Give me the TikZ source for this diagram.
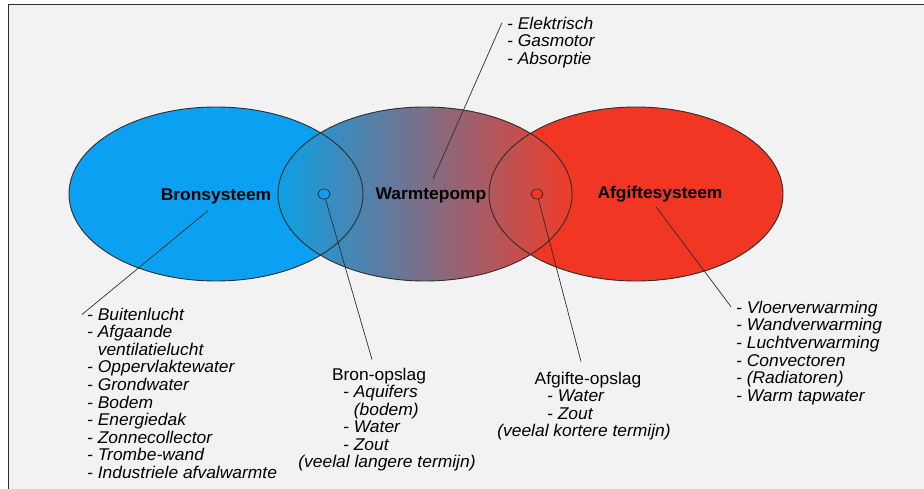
\documentclass[tikz,border=0pt]{standalone}
\usepackage{fontspec}
\setmainfont{Liberation Sans}[FakeStretch=1.025]
\usepackage{tikz}
\usetikzlibrary{positioning, calc}
\usetikzlibrary{shapes.geometric}

\definecolor{bronblue}{RGB}{12,160,242}
\definecolor{afgred}{RGB}{242,54,36}
\definecolor{pompleft}{RGB}{12,160,228}
\definecolor{pompmid}{RGB}{150,122,124}
\definecolor{pompright}{RGB}{240,60,42}
\definecolor{panel}{RGB}{242,242,242}
\definecolor{rim}{RGB}{45,45,45}

\tikzset{
    txt/.style={inner sep=0pt, font=\fontsize{17pt}{17.6pt}\selectfont},
    syslabel/.style={txt, font=\fontsize{17pt}{17.6pt}\selectfont\bfseries, anchor=base},
    itemlist/.style={txt, font=\fontsize{17pt}{17.6pt}\selectfont\itshape, align=left, anchor=north west},
    notetxt/.style={txt, font=\fontsize{17pt}{17.6pt}\selectfont\itshape, anchor=base},
    leader/.style={draw=rim, line width=0.7pt},
    smalldot/.style={ellipse, draw=rim, line width=0.7pt, inner sep=0pt, minimum width=12pt, minimum height=10pt}
}

\begin{document}
\begin{tikzpicture}[x=1pt,y=-1pt]
                    \useasboundingbox (0,0) rectangle (924,489);
                    \fill[white] (0,0) rectangle (924,489);
                    \fill[panel] (8,5) rectangle (924,489);
                    \draw[rim, line width=1pt] (8,489) -- (8,5) -- (924,5);
                    \fill[bronblue] (216,194) ellipse [x radius=147pt, y radius=87pt];
                    \fill[afgred] (636,194) ellipse [x radius=147pt, y radius=87pt];
                    \shade[left color=pompleft, middle color=pompmid, right color=pompright] (425,194) ellipse [x radius=147pt, y radius=87pt];
                    \foreach \cx in {216,425,636}
                        \draw[rim, line width=0.9pt] (\cx,194) ellipse [x radius=147pt, y radius=87pt];
                    \node[syslabel] (bronsys) at (216,201) {Bronsysteem};
                    \node[syslabel] (pomp) at (431,200) {Warmtepomp};
                    \node[syslabel] (afgsys) at (660,199) {Afgiftesysteem};
                    \node[smalldot, fill=bronblue] (bluedot) at (324,194) {};
                    \node[smalldot, fill=afgred] (reddot) at (537,194) {};
                    \node[itemlist] (pomptypes) at (507,16.7) {- Elektrisch\\- Gasmotor\\- Absorptie};
                    \node[itemlist] (bronlist) at (87,307.5) {- Buitenlucht\\- Afgaande\\\phantom{- }ventilatielucht\\- Oppervlaktewater\\- Grondwater\\- Bodem\\- Energiedak\\- Zonnecollector\\- Trombe-wand\\- Industriele afvalwarmte};
                    \node[itemlist] (afglist) at (736,300.7) {- Vloerverwarming\\- Wandverwarming\\- Luchtverwarming\\- Convectoren\\- (Radiatoren)\\- Warm tapwater};
                    \node[txt, anchor=base] (bronopslag) at (379,380) {Bron-opslag};
                    \node[itemlist] (bronitems) at (343,385.1) {- Aquifers\\\phantom{- }(bodem)\\- Water\\- Zout};
                    \node[notetxt] (bronnote) at (387,467.5) {(veelal langere termijn)};
                    \node[txt, anchor=base] (afgopslag) at (588,384) {Afgifte-opslag};
                    \node[itemlist] (afgitems) at (547,389.8) {- Water\\- Zout};
                    \node[notetxt] (afgnote) at (584,436) {(veelal kortere termijn)};
                    \draw[leader] ([shift={(-8,6)}]bronsys.south) -- ([shift={(-5,7)}]bronlist.north west);
                    \draw[leader] ([shift={(2,-9)}]pomp.north) -- ([shift={(-5,6)}]pomptypes.north west);
                    \draw[leader] ([shift={(-4,4)}]afgsys.south) -- ([shift={(-5,6)}]afglist.north west);
                    \draw[leader] (bluedot) -- ([shift={(-7,-8)}]bronopslag.north);
                    \draw[leader] (reddot) -- ([shift={(-7,-10)}]afgopslag.north);
                \end{tikzpicture}
\end{document}
